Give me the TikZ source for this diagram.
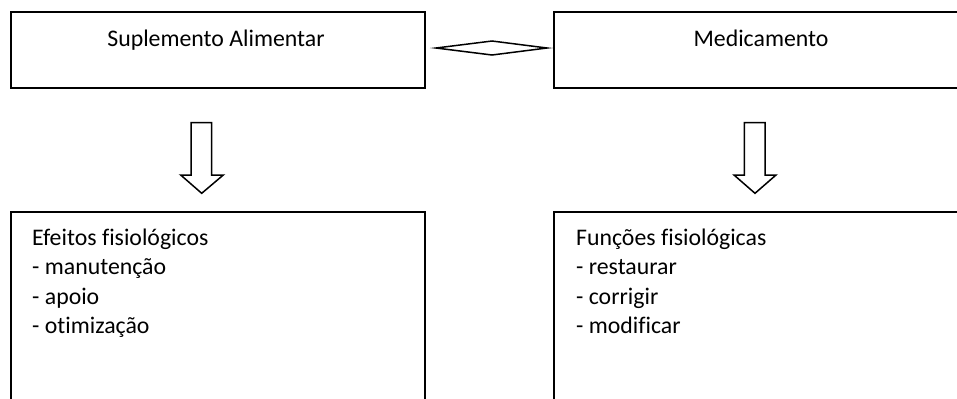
\documentclass[tikz,border=0pt]{standalone}
\usepackage{fontspec}
\setmainfont[Ligatures=NoCommon]{Carlito}
\begin{document}
\begin{tikzpicture}[x=1bp,y=-1bp,
  box/.style={draw=black,line width=1.5bp},
  arrowshape/.style={draw=black,line width=1.5bp,fill=white,line join=miter},
  txt/.style={inner sep=0pt,anchor=base,font=\fontsize{23.8bp}{28bp}\selectfont},
  ltxt/.style={inner sep=0pt,anchor=base west,font=\fontsize{23.8bp}{28bp}\selectfont}]
\useasboundingbox (0,0) rectangle (957,398);
\clip (0,0) rectangle (957,398);
% top boxes
\draw[box] (11,12) rectangle (425,88);
\draw[box] (554,12) rectangle (968,88);
\node[txt] (sup) at (216,46.7) {Suplemento Alimentar};
\node[txt] (med) at (761,46.7) {Medicamento};
% double arrow (diamond)
\draw[arrowshape] (436,48) -- (492,41) -- (547,48) -- (492,55) -- cycle;
% down arrows
\draw[arrowshape] (191,122.7) -- (211.7,122.7) -- (211.7,175) -- (223.3,175) -- (201.7,193.3) -- (180.7,175) -- (191,175) -- cycle;
\draw[arrowshape] (744.3,122.7) -- (765,122.7) -- (765,175) -- (776,175) -- (755,193.3) -- (734,175) -- (744.3,175) -- cycle;
% bottom boxes
\draw[box] (11,212) rectangle (425,410);
\draw[box] (554,212) rectangle (968,410);
\node[ltxt] (e1) at (32,245) {Efeitos fisiológicos};
\node[ltxt] (e2) at (32,274.5) {- manutenção};
\node[ltxt] (e3) at (32,304) {- apoio};
\node[ltxt] (e4) at (32,333.5) {- otimização};
\node[ltxt] (f1) at (576,245) {Funções fisiológicas};
\node[ltxt] (f2) at (576,274.5) {- restaurar};
\node[ltxt] (f3) at (576,304) {- corrigir};
\node[ltxt] (f4) at (576,333.5) {- modificar};
\end{tikzpicture}
\end{document}
